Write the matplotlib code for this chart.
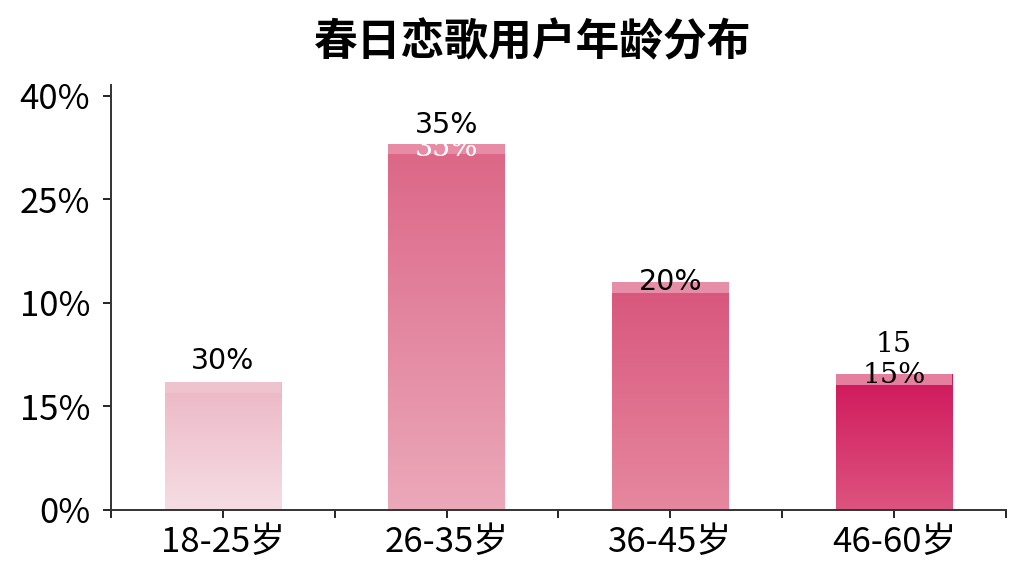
import numpy as np
import matplotlib
matplotlib.use('Agg')
import matplotlib.pyplot as plt
from matplotlib.colors import to_rgb

plt.rcParams['font.family'] = ['Noto Sans CJK SC', 'DejaVu Sans']

# Data (bar heights in axis units, tick labels as printed)
age_groups = ['18-25岁', '26-35岁', '36-45岁', '46-60岁']
bar_heights = [12.4, 35.4, 22.0, 13.1]
bar_labels = ['30%', '35%', '20%', '15%']
ytick_pos = [0, 10, 20, 30, 40]
ytick_labels = ['0%', '15%', '10%', '25%', '40%']

# gradient colours per bar (top, bottom) and the lighter cap band
top_colors = ['#ecb7c5', '#dc6586', '#d8557c', '#cf175a']
bottom_colors = ['#f6dde4', '#eba9ba', '#e6889f', '#dd5480']
cap_colors = ['#efc3ce', '#e88ba5', '#e68ea8', '#e57fa0']
cap_h = 1.05

fig = plt.figure(figsize=(10.24, 5.76), dpi=100)
ax = fig.add_axes([0.1084, 0.1146, 0.8740, 0.7378])

x = np.arange(len(age_groups))
bars = ax.bar(x, bar_heights, width=0.52, color='none', zorder=2)

for i, b in enumerate(bars):
    t = np.array(to_rgb(top_colors[i]))
    bt = np.array(to_rgb(bottom_colors[i]))
    n = 256
    frac = np.linspace(0, 1, n)[:, None]
    grad = (t[None, :] * (1 - frac) + bt[None, :] * frac)[:, None, :]
    x0, w, h = b.get_x(), b.get_width(), b.get_height()
    im = ax.imshow(grad, extent=[x0, x0 + w, 0, h], aspect='auto',
                   origin='upper', zorder=2)
    im.set_clip_path(b)

ax.bar(x, [cap_h] * len(x), bottom=[h - cap_h for h in bar_heights],
       width=0.52, color=cap_colors, zorder=3)

# value labels (as they appear in the reference)
lab_fs = 20.5
ax.text(0, bar_heights[0] + 0.6, bar_labels[0], ha='center', va='bottom',
        fontsize=lab_fs, family='DejaVu Sans', zorder=5)
ax.text(1, bar_heights[1] + 0.4, bar_labels[1], ha='center', va='bottom',
        fontsize=lab_fs, family='DejaVu Sans', zorder=5)
ax.text(1, bar_heights[1] - 0.5, bar_labels[1], ha='center', va='center',
        fontsize=lab_fs, family='DejaVu Serif', color='white', zorder=5)
ax.text(2, bar_heights[2], bar_labels[2], ha='center', va='center',
        fontsize=lab_fs, family='DejaVu Sans', zorder=5)
ax.text(3, bar_heights[3] + 2.9, bar_labels[3].rstrip('%'), ha='center',
        va='center', fontsize=lab_fs, family='DejaVu Serif', zorder=5)
ax.text(3, bar_heights[3] - 0.1, bar_labels[3], ha='center', va='center',
        fontsize=lab_fs, family='DejaVu Serif', zorder=5)

ax.set_xlim(-0.5, 3.5)
ax.set_ylim(0, 41.06)
ax.set_xticks(x)
ax.set_xticklabels(age_groups, fontsize=25)
ax.set_xticks(np.arange(-0.5, 3.6, 0.5), minor=True)
ax.set_yticks(ytick_pos)
ax.set_yticklabels(ytick_labels, fontsize=25)
ax.tick_params(axis='x', which='both', length=6, width=1.2, pad=5)
ax.tick_params(axis='y', length=6, width=1.2, pad=9)

for s in ['top', 'right']:
    ax.spines[s].set_visible(False)
for s in ['left', 'bottom']:
    ax.spines[s].set_linewidth(1.4)
    ax.spines[s].set_color('#333333')

fig.text(0.52, 0.927, '春日恋歌用户年龄分布', ha='center', va='center',
         fontsize=31.5, fontweight='bold')

fig.savefig('out.png', dpi=100)
